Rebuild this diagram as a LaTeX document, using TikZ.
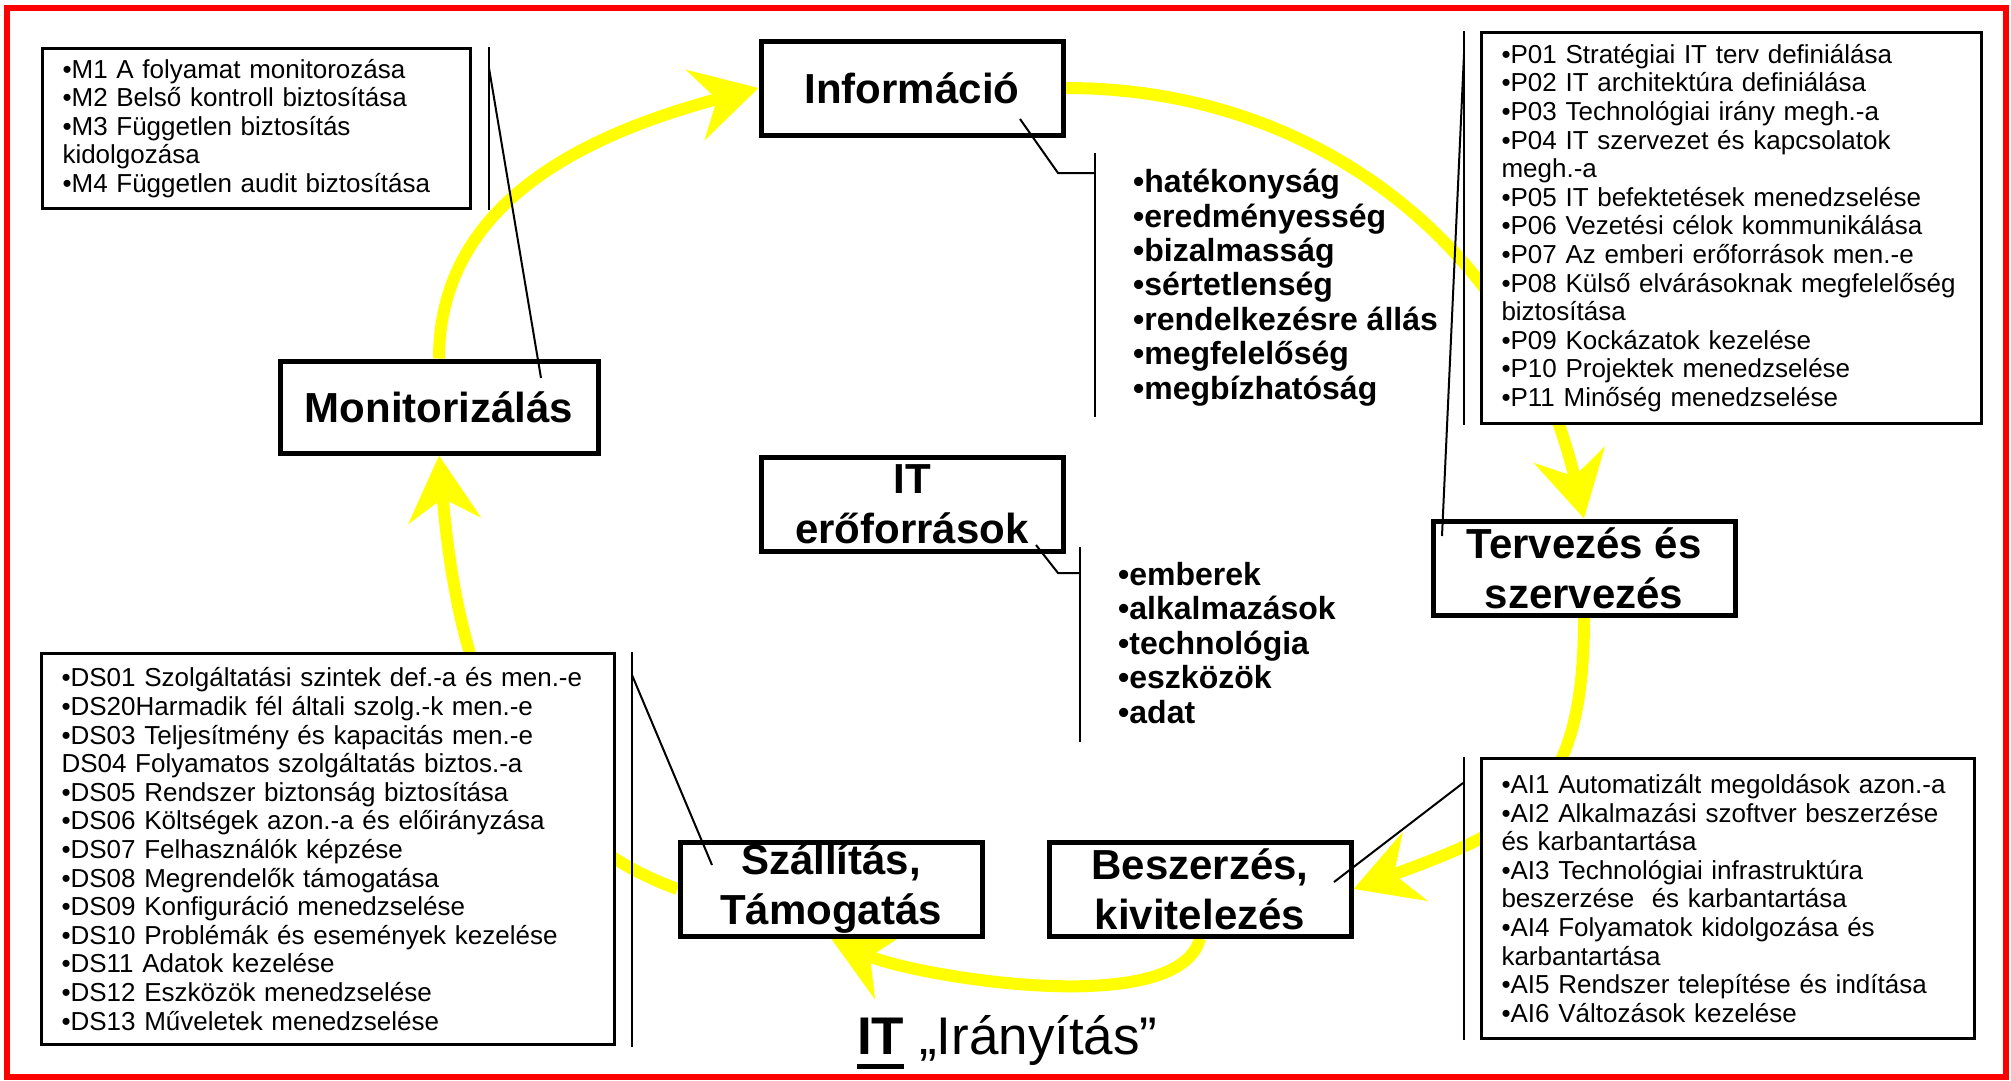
\documentclass[tikz,border=0pt]{standalone}
\usepackage{fontspec}
\setmainfont{Liberation Sans}
\usetikzlibrary{arrows.meta,backgrounds}

\newcommand{\thickul}[1]{\setbox0=\hbox{#1}\rlap{\rule[-15pt]{\wd0}{5pt}}\box0\relax}

\begin{document}
\begin{tikzpicture}[x=1pt,y=1pt,
  phase/.style={draw,line width=5pt,fill=white,inner sep=0pt,align=center,
    minimum width=302pt,minimum height=94pt,font=\bfseries\fontsize{42}{50}\selectfont},
  listbox/.style={draw,line width=3pt,fill=white,inner xsep=20pt,inner ysep=0pt,align=left,
    font=\fontsize{26}{28.6}\selectfont},
  keylist/.style={anchor=north west,inner sep=0pt,align=left,
    font=\bfseries\fontsize{32}{34.4}\selectfont},
  bar/.style={line width=2.5pt},
  leader/.style={line width=2pt},
  cyclearrow/.style={cyclecol,line width=12pt,-{Stealth[length=65pt,width=72pt,inset=22pt]}}]
\definecolor{frame}{HTML}{FF0000}
\definecolor{cyclecol}{HTML}{FFFF00}
\useasboundingbox (0,0) rectangle (2011,-1080);
\draw[frame,line width=6pt] (7,-8) rectangle (2006,-1077);

\node[phase] (info) at (912,-88) {Információ};
\node[phase] (itres) at (912,-504) {IT\\erőforrások};
\node[phase] (terv) at (1584,-568) {Tervezés és\\szervezés};
\node[phase,minimum width=318pt,minimum height=92pt] (mon) at (439,-407) {Monitorizálás};
\node[phase] (szall) at (831,-889) {Szállítás,\\Támogatás};
\node[phase] (besz) at (1200,-889) {Beszerzés,\\kivitelezés};

\node[listbox,minimum height=160pt,text width=388pt] (mlist) at (256.5,-128.5)
  {•M1 A folyamat monitorozása\\•M2 Belső kontroll biztosítása\\•M3 Független biztosítás\\kidolgozása\\•M4 Független audit biztosítása};
\node[listbox,minimum height=391pt,text width=460pt] (plist) at (1731.5,-228)
  {•P01 Stratégiai IT terv definiálása\\•P02 IT architektúra definiálása\\•P03 Technológiai irány megh.-a\\•P04 IT szervezet és kapcsolatok\\megh.-a\\•P05 IT befektetések menedzselése\\•P06 Vezetési célok kommunikálása\\•P07 Az emberi erőforrások men.-e\\•P08 Külső elvárásoknak megfelelőség\\biztosítása\\•P09 Kockázatok kezelése\\•P10 Projektek menedzselése\\•P11 Minőség menedzselése};
\node[listbox,minimum height=391pt,text width=533pt] (dslist) at (328,-849)
  {•DS01 Szolgáltatási szintek def.-a és men.-e\\•DS20Harmadik fél általi szolg.-k men.-e\\•DS03 Teljesítmény és kapacitás men.-e\\DS04 Folyamatos szolgáltatás biztos.-a\\•DS05 Rendszer biztonság biztosítása\\•DS06 Költségek azon.-a és előirányzása\\•DS07 Felhasználók képzése\\•DS08 Megrendelők támogatása\\•DS09 Konfiguráció menedzselése\\•DS10 Problémák és események kezelése\\•DS11 Adatok kezelése\\•DS12 Eszközök menedzselése\\•DS13 Műveletek menedzselése};
\node[listbox,minimum height=280pt,text width=453pt] (ailist) at (1728,-898.5)
  {•AI1 Automatizált megoldások azon.-a\\•AI2 Alkalmazási szoftver beszerzése\\és karbantartása\\•AI3 Technológiai infrastruktúra\\beszerzése \ és karbantartása\\•AI4 Folyamatok kidolgozása és\\karbantartása\\•AI5 Rendszer telepítése és indítása\\•AI6 Változások kezelése};

\node[keylist] (infokeys) at (1133,-169)
  {•hatékonyság\\•eredményesség\\•bizalmasság\\•sértetlenség\\•rendelkezésre állás\\•megfelelőség\\•megbízhatóság};
\node[keylist] (reskeys) at (1118,-562)
  {•emberek\\•alkalmazások\\•technológia\\•eszközök\\•adat};
\node[anchor=base west,inner sep=0pt,font=\fontsize{53}{60}\selectfont] (title) at (857,-1054)
  {\thickul{\textbf{IT}} „Irányítás”};

\foreach \x/\ya/\yb in {489/47/210,1095/153/417,1080/547/742,1464/31/425,1464/757/1040,632/652/1047}
  \draw[bar] (\x,-\ya) -- (\x,-\yb);

\coordinate (mtap) at (489,-68);
\coordinate (montip) at (541,-378);
\coordinate (infotip) at (1020,-119);
\coordinate (infotap) at (1095,-173);
\coordinate (restip) at (1036,-545);
\coordinate (restap) at (1080,-573);
\coordinate (ptap) at (1464,-54);
\coordinate (tervtip) at (1442,-536);
\coordinate (aitap) at (1463,-783);
\coordinate (besztip) at (1334,-882);
\coordinate (dstap) at (632,-675);
\coordinate (szalltip) at (712,-865);
\draw[leader] (mtap) -- (montip);
\draw[leader] (infotip) -- ++(38,-54) -- (infotap);
\draw[leader] (restip) -- ++(22,-28) -- (restap);
\draw[leader] (ptap) -- (tervtip);
\draw[leader] (aitap) -- (besztip);
\draw[leader] (dstap) -- (szalltip);

\begin{scope}[on background layer]
\foreach \a/\b/\o/\i/\l in {mon.north/info.west/90/195/1,info.east/terv.north/0/103/1,
    terv.south/besz.east/270/20/1.3,besz.south/szall.south/255/335/0.6,szall.west/mon.south/160/275/1}
  \draw[cyclearrow] (\a) to[out=\o,in=\i,looseness=\l] (\b);
\end{scope}
\end{tikzpicture}
\end{document}
